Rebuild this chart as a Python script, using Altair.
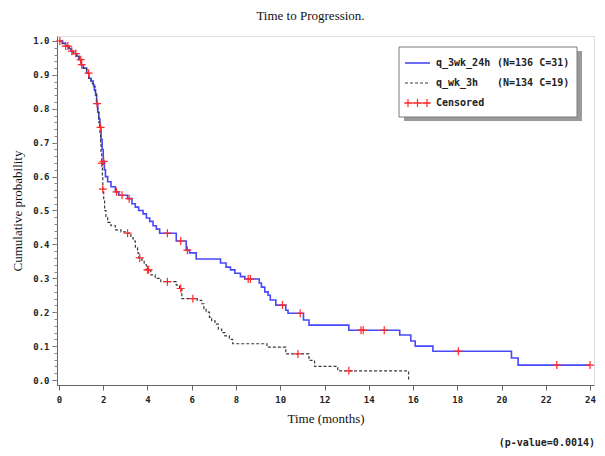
import altair as alt
import pandas as pd

# ---- data ----
blue_t = [0, 0.15, 0.3, 0.45, 0.55, 0.65, 0.8, 0.9, 1.0, 1.1, 1.25, 1.35, 1.45, 1.55, 1.6, 1.65, 1.7, 1.75,
          1.8, 1.85, 1.9, 1.95, 2.0, 2.05, 2.1, 2.2, 2.35, 2.55, 2.7, 3.1, 3.3, 3.45, 3.6, 3.8, 3.95, 4.1,
          4.25, 4.4, 4.55, 5.3, 5.75, 5.9, 6.2, 7.3, 7.55, 7.75, 7.95, 8.2, 8.4, 9.05, 9.15, 9.3, 9.45,
          9.55, 9.8, 10.25, 10.35, 11.05, 11.3, 13.1, 15.4, 15.9, 16.1, 16.9, 20.45, 20.75, 24.0]
blue_s = [1.0, 0.993, 0.985, 0.978, 0.97, 0.963, 0.955, 0.945, 0.93, 0.92, 0.905, 0.89, 0.882, 0.87, 0.855,
          0.84, 0.815, 0.79, 0.77, 0.745, 0.71, 0.68, 0.645, 0.62, 0.6, 0.585, 0.57, 0.555, 0.545, 0.535,
          0.52, 0.51, 0.5, 0.49, 0.478, 0.468, 0.455, 0.445, 0.433, 0.41, 0.383, 0.375, 0.357, 0.345, 0.333,
          0.325, 0.315, 0.305, 0.298, 0.286, 0.274, 0.26, 0.25, 0.236, 0.221, 0.206, 0.197, 0.177, 0.162,
          0.147, 0.133, 0.115, 0.10, 0.085, 0.065, 0.044, 0.044]
blue_cens_t = [0.04, 0.3, 0.58, 0.98, 1.34, 1.72, 1.88, 2.02, 2.6, 2.85, 3.17, 4.9, 5.5, 5.8, 8.55, 8.65,
               10.1, 10.9, 13.65, 13.75, 14.7, 18.05, 22.5, 24.0]
blue_cens_s = [1.0, 0.985, 0.97, 0.945, 0.905, 0.815, 0.745, 0.645, 0.555, 0.545, 0.535, 0.433, 0.41, 0.383,
               0.298, 0.298, 0.221, 0.197, 0.147, 0.147, 0.147, 0.085, 0.044, 0.044]

black_t = [0, 0.15, 0.3, 0.45, 0.55, 0.65, 0.8, 0.9, 1.0, 1.1, 1.25, 1.35, 1.45, 1.55, 1.65, 1.7, 1.75, 1.8,
           1.85, 1.88, 1.9, 1.93, 1.96, 1.98, 2.02, 2.06, 2.12, 2.2, 2.35, 2.55, 2.8, 3.0, 3.25, 3.35, 3.45,
           3.55, 3.6, 3.75, 3.85, 3.95, 4.15, 4.35, 4.6, 5.3, 5.45, 5.55, 6.25, 6.45, 6.55, 6.65, 6.8, 6.9,
           7.05, 7.2, 7.35, 7.5, 7.7, 7.85, 9.4, 10.25, 11.3, 11.55, 12.6, 15.8]
black_s = [1.0, 0.993, 0.985, 0.978, 0.97, 0.963, 0.955, 0.945, 0.93, 0.92, 0.905, 0.89, 0.875, 0.865, 0.85,
           0.82, 0.79, 0.76, 0.73, 0.70, 0.67, 0.64, 0.60, 0.563, 0.53, 0.50, 0.48, 0.465, 0.455, 0.443,
           0.437, 0.433, 0.42, 0.41, 0.39, 0.375, 0.36, 0.35, 0.34, 0.325, 0.31, 0.30, 0.29, 0.28, 0.27,
           0.24, 0.235, 0.225, 0.21, 0.20, 0.185, 0.175, 0.165, 0.15, 0.14, 0.13, 0.12, 0.107, 0.097,
           0.077, 0.058, 0.04, 0.027, 0.0]
black_cens_t = [0.4, 0.76, 1.03, 1.93, 1.98, 3.1, 3.65, 4.0, 4.05, 4.9, 5.5, 6.05, 10.8, 13.1]
black_cens_s = [0.985, 0.963, 0.93, 0.64, 0.563, 0.433, 0.36, 0.325, 0.325, 0.29, 0.27, 0.24, 0.077, 0.027]

x_ticks = list(range(0, 25, 2))
y_ticks = [i / 10 for i in range(11)]
y_minor = [i / 50 for i in range(51)]

title_text = "Time to Progression."
x_title = "Time (months)"
y_title = "Cumulative probability"
leg1_name, leg1_n = "q_3wk_24h", "(N=136 C=31)"
leg2_name, leg2_n = "q_wk_3h", "(N=134 C=19)"
leg3_name = "Censored"
pval_text = "(p-value=0.0014)"

blue_df = pd.DataFrame({"t": blue_t, "S": blue_s})
black_df = pd.DataFrame({"t": black_t, "S": black_s})
cens_df = pd.DataFrame({"t": blue_cens_t + black_cens_t, "S": blue_cens_s + black_cens_s})

W, H = 537, 349
MONO = "DejaVu Sans Mono"
SERIF = "Liberation Serif"
BLUE = "#4848f8"
RED = "#ff2a2a"
PLUS = "M-1,0H1M0,-1V1"

xscale = alt.Scale(domain=[-0.09, 24.18], nice=False, zero=False)
yscale = alt.Scale(domain=[-0.0147, 1.0147], nice=False, zero=False)

xaxis = alt.Axis(values=x_ticks, format="d", title=x_title, grid=False, tickSize=5, labelPadding=5,
                 labelFont=MONO, labelFontWeight="bold", labelFontSize=9, labelColor="#222",
                 titleFont=SERIF, titleFontSize=13, titleFontWeight="normal", titleColor="#111",
                 titlePadding=8, domainColor="#666", tickColor="#666", labelFlush=False)
yaxis = alt.Axis(values=y_ticks, format=".1f", title=y_title, grid=False, tickSize=5, labelPadding=3,
                 orient="left", labelFont=MONO, labelFontWeight="bold", labelFontSize=9, labelColor="#222",
                 titleFont=SERIF, titleFontSize=13, titleFontWeight="normal", titleColor="#111",
                 titlePadding=8, domainColor="#666", tickColor="#666")
yaxis_minor = alt.Axis(values=y_minor, labels=False, title=None, grid=False, tickSize=3, orient="left",
                       domain=False, tickColor="#888")

X = alt.X("t:Q", scale=xscale, axis=xaxis)

main_blue = alt.Chart(blue_df).mark_line(interpolate="step-after", color=BLUE, strokeWidth=1.6).encode(
    x=X, y=alt.Y("S:Q", scale=yscale, axis=yaxis))
minor = alt.Chart(blue_df).mark_line(opacity=0).encode(
    x=X, y=alt.Y("S:Q", scale=yscale, axis=yaxis_minor))
main_black = alt.Chart(black_df).mark_line(interpolate="step-after", color="#3a3a3a", strokeWidth=1.2,
                                           strokeDash=[3, 2]).encode(
    x=X, y=alt.Y("S:Q", scale=yscale, axis=None))
cens = alt.Chart(cens_df).mark_point(shape=PLUS, size=64, filled=False, color=RED, strokeWidth=1.2,
                                     opacity=1).encode(
    x=X, y=alt.Y("S:Q", scale=yscale, axis=None))

one = pd.DataFrame({"a": [0]})
base = alt.Chart(one)
shadow = base.mark_rect(color="#9a9a9a").encode(x=alt.value(347), x2=alt.value(525), y=alt.value(15), y2=alt.value(85))
box = base.mark_rect(fill="white", stroke="#7a7a7a", strokeWidth=1).encode(
    x=alt.value(342), x2=alt.value(520), y=alt.value(11), y2=alt.value(81))
l1 = base.mark_rule(color=BLUE, strokeWidth=1.6).encode(x=alt.value(348), x2=alt.value(373), y=alt.value(27))
l2 = base.mark_rule(color="#3a3a3a", strokeWidth=1.2, strokeDash=[3, 2]).encode(
    x=alt.value(348), x2=alt.value(373), y=alt.value(47))
l3 = base.mark_rule(color=RED, strokeWidth=1.2).encode(x=alt.value(348), x2=alt.value(373), y=alt.value(67))
p1 = base.mark_point(shape=PLUS, size=64, filled=False, color=RED, strokeWidth=1.2, opacity=1).encode(
    x=alt.value(351), y=alt.value(67))
p2 = base.mark_point(shape=PLUS, size=64, filled=False, color=RED, strokeWidth=1.2, opacity=1).encode(
    x=alt.value(360.5), y=alt.value(67))
p3 = base.mark_point(shape=PLUS, size=64, filled=False, color=RED, strokeWidth=1.2, opacity=1).encode(
    x=alt.value(370), y=alt.value(67))
txt = dict(font=MONO, fontSize=10, fontWeight="bold", color="#222", align="left", baseline="middle")
t1 = base.mark_text(text=leg1_name, **txt).encode(x=alt.value(379), y=alt.value(27))
t1n = base.mark_text(text=leg1_n, **txt).encode(x=alt.value(440), y=alt.value(27))
t2 = base.mark_text(text=leg2_name, **txt).encode(x=alt.value(379), y=alt.value(47))
t2n = base.mark_text(text=leg2_n, **txt).encode(x=alt.value(440), y=alt.value(47))
t3 = base.mark_text(text=leg3_name, **txt).encode(x=alt.value(379), y=alt.value(67))
pv = base.mark_text(text=pval_text, font=MONO, fontSize=10, fontWeight="bold", color="#222",
                    align="right", baseline="middle").encode(x=alt.value(538), y=alt.value(407))

chart = alt.layer(
    main_blue, minor, main_black, cens,
    shadow, box, l1, l2, l3, p1, p2, p3, t1, t1n, t2, t2n, t3, pv
).resolve_axis(y="independent").properties(
    width=W, height=H,
    title=alt.TitleParams(title_text, font=SERIF, fontSize=13, fontWeight="normal", color="#111",
                          anchor="middle", dx=-15, offset=12),
    padding={"left": 49, "top": 28, "right": 3, "bottom": 63},
    autosize=alt.AutoSizeParams(type="none"),
).configure_view(stroke="#8a8a8a", strokeWidth=1.5).configure(background="white")

chart.save("out.html", embed_options={"renderer": "svg", "actions": False})
